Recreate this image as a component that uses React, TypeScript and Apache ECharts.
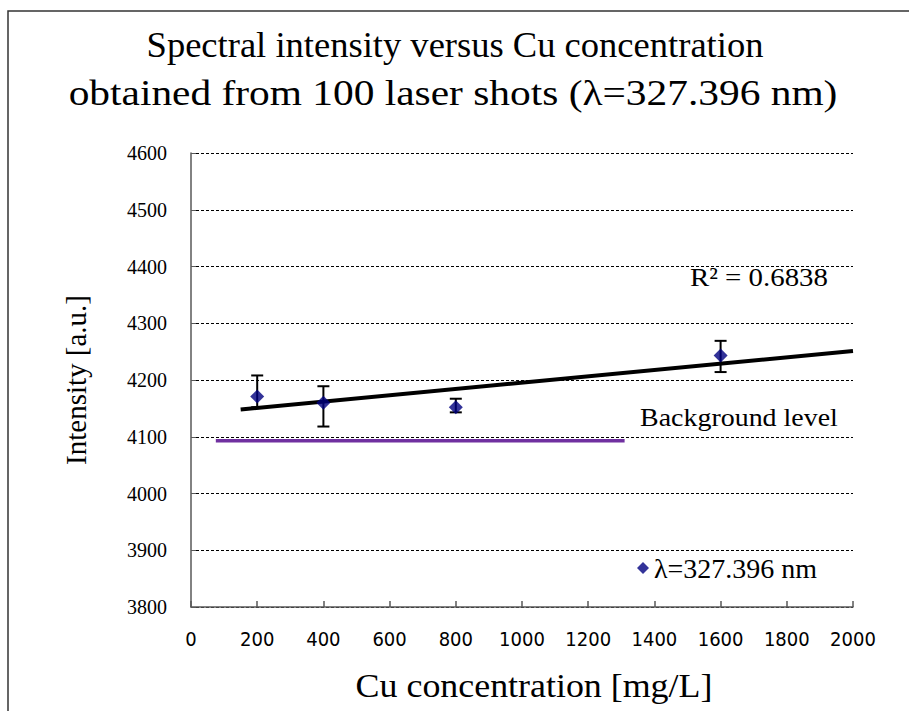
import React, { useEffect, useRef } from "react";
import * as echarts from "echarts";

const concentrations = [200, 400, 800, 1600];
const intensities = [4171, 4160, 4152, 4243];
const errLow = [4152, 4118, 4143, 4214];
const errHigh = [4208, 4189, 4167, 4269];
const trendRange = [150, 2000];
const backgroundRange = [75, 1310];
const backgroundLevel = 4093;
const xTicks = { min: 0, max: 2000, step: 200 };
const yTicks = { min: 3800, max: 4600, step: 100 };

const titleLine1 = "Spectral intensity versus Cu concentration";
const titleLine2 = "obtained from 100 laser shots (λ=327.396 nm)";
const seriesName = "λ=327.396 nm";
const r2Text = "R² = 0.6838";
const bgText = "Background level";
const xName = "Cu concentration [mg/L]";
const yName = "Intensity [a.u.]";

const SERIF = "'Liberation Serif', 'Times New Roman', serif";
const NARROW = "'Liberation Sans Narrow', 'DejaVu Sans Condensed', 'Arial Narrow', sans-serif";

function linearFit(xs: number[], ys: number[]) {
  const n = xs.length;
  const mx = xs.reduce((a, b) => a + b, 0) / n;
  const my = ys.reduce((a, b) => a + b, 0) / n;
  let sxx = 0, sxy = 0;
  for (let i = 0; i < n; i++) {
    sxx += (xs[i] - mx) ** 2;
    sxy += (xs[i] - mx) * (ys[i] - my);
  }
  const slope = sxy / sxx;
  return { slope, intercept: my - slope * mx };
}

function txt(text: string, x: number, y: number, size: number, scaleX: number, align = "center", extra: any = {}) {
  return {
    type: "text",
    x,
    y,
    scaleX,
    style: { text, fontFamily: SERIF, fontSize: size, fill: "#000", align, verticalAlign: "middle" },
    ...extra,
  };
}

export default function App() {
  const ref = useRef<HTMLDivElement>(null);
  useEffect(() => {
    if (!ref.current) return;
    const chart = echarts.init(ref.current, undefined, { renderer: "svg" });
    const fit = linearFit(concentrations, intensities);
    const trend = trendRange.map((x) => [x, fit.intercept + fit.slope * x]);
    const points = concentrations.map((x, i) => [x, intensities[i]]);
    const errs = concentrations.map((x, i) => [x, errLow[i], errHigh[i]]);
    const bg = backgroundRange.map((x) => [x, backgroundLevel]);

    chart.setOption({
      animation: false,
      backgroundColor: "#ffffff",
      grid: { left: 191, top: 153, width: 662, height: 454 },
      legend: {
        data: [seriesName],
        left: 632,
        top: 549,
        itemWidth: 12,
        itemHeight: 12,
        itemGap: 4,
        textStyle: { fontFamily: SERIF, fontSize: 28, color: "#000" },
        icon: "diamond",
      },
      xAxis: {
        type: "value",
        min: xTicks.min,
        max: xTicks.max,
        interval: xTicks.step,
        axisLine: { show: true, lineStyle: { color: "#595959", width: 1.5 } },
        axisTick: { show: true, inside: true, length: 6, lineStyle: { color: "#595959", width: 1.5 } },
        axisLabel: { fontFamily: NARROW, fontSize: 20, color: "#000", margin: 22, formatter: (v: number) => String(v) },
        splitLine: { show: false },
      },
      yAxis: {
        type: "value",
        min: yTicks.min,
        max: yTicks.max,
        interval: yTicks.step,
        axisLine: { show: true, lineStyle: { color: "#595959", width: 1.5 } },
        axisTick: { show: true, inside: true, length: 5, lineStyle: { color: "#595959" } },
        axisLabel: { fontFamily: SERIF, fontSize: 20, color: "#000", margin: 24, formatter: (v: number) => String(v) },
        splitLine: { show: true, lineStyle: { color: "#000", width: 1, type: [3, 2] } },
      },
      graphic: [
        {
          type: "rect",
          shape: { x: 8, y: 11, width: 1200, height: 1200 },
          style: { fill: "none", stroke: "#333", lineWidth: 1.5 },
          silent: true,
        },
        txt(titleLine1, 455, 45, 36, 1.015),
        txt(titleLine2, 453, 92, 36, 1.15),
        {
          type: "text",
          x: 76,
          y: 380,
          rotation: Math.PI / 2,
          style: { text: yName, fontFamily: SERIF, fontSize: 29, fill: "#000", align: "center", verticalAlign: "middle" },
        },
        txt(xName, 534, 686, 34, 1.056),
        txt(r2Text, 690, 277, 26, 1.11, "left"),
        txt(bgText, 640, 417, 26, 1.075, "left"),
      ],
      series: [
        {
          name: "Background",
          type: "line",
          data: bg,
          symbol: "none",
          lineStyle: { color: "#7030A0", width: 3.5 },
          silent: true,
          z: 2,
        },
        {
          name: "Trend",
          type: "line",
          data: trend,
          symbol: "none",
          lineStyle: { color: "#000", width: 4 },
          silent: true,
          z: 3,
        },
        {
          name: "errors",
          type: "custom",
          data: errs,
          z: 4,
          renderItem: (params: any, api: any) => {
            const x = api.value(0);
            const lo = api.coord([x, api.value(1)]);
            const hi = api.coord([x, api.value(2)]);
            const hw = 6;
            const style = { stroke: "#000", lineWidth: 2 };
            return {
              type: "group",
              children: [
                { type: "line", shape: { x1: lo[0], y1: lo[1], x2: hi[0], y2: hi[1] }, style },
                { type: "line", shape: { x1: lo[0] - hw, y1: lo[1], x2: lo[0] + hw, y2: lo[1] }, style },
                { type: "line", shape: { x1: hi[0] - hw, y1: hi[1], x2: hi[0] + hw, y2: hi[1] }, style },
              ],
            };
          },
        },
        {
          name: seriesName,
          type: "scatter",
          data: points,
          symbol: "diamond",
          symbolSize: 14,
          itemStyle: { color: "#000080" },
          z: 5,
        },
      ],
    });
    return () => chart.dispose();
  }, []);
  return <div ref={ref} style={{ position: "fixed", left: 0, top: 0, width: 909, height: 711 }} />;
}
